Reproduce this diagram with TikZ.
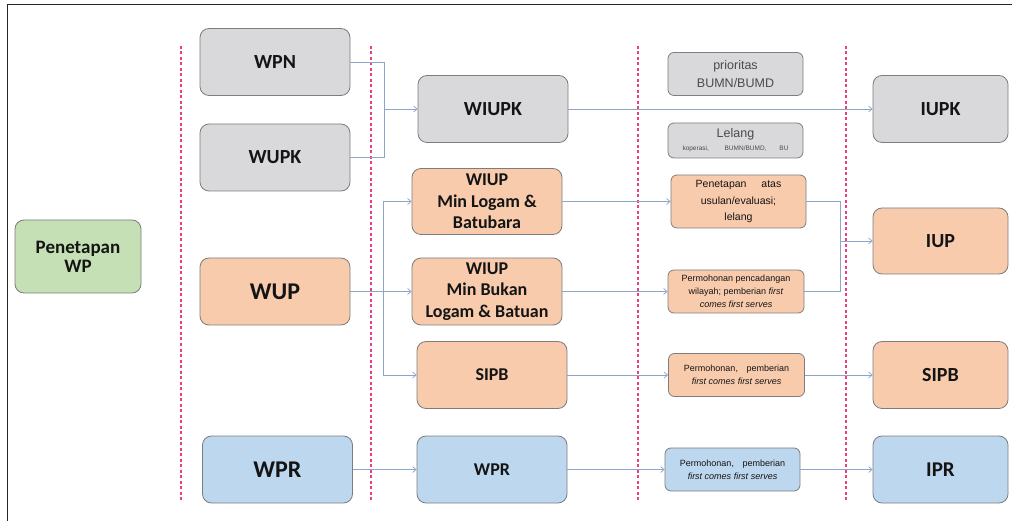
\documentclass[tikz,border=0pt]{standalone}
\usepackage{fontspec}
\setmainfont{Carlito}
\newfontfamily\smallfont{Liberation Sans}
\usetikzlibrary{arrows.meta}
\definecolor{gfill}{RGB}{217,217,220}
\definecolor{ofill}{RGB}{248,203,173}
\definecolor{bfill}{RGB}{189,215,238}
\definecolor{grfill}{RGB}{197,224,180}
\definecolor{bord}{RGB}{125,125,125}
\definecolor{conncol}{RGB}{140,165,200}
\definecolor{pinkd}{RGB}{232,64,128}
\definecolor{txt}{RGB}{20,20,20}
\definecolor{gtxt}{RGB}{75,75,75}
\newcommand\fsz[2]{\fontsize{#1}{#2}\selectfont}
\tikzset{
 box/.style={draw=bord, line width=0.8pt, rounded corners=9pt, inner sep=0pt, align=center, text=txt},
 bigbox/.style={box, minimum width=150pt, minimum height=67pt},
 colbox/.style={box, minimum width=135pt, minimum height=67pt},
 smallbox/.style={box, rounded corners=6pt, minimum width=135pt, minimum height=43pt},
 grayf/.style={fill=gfill},
 orangef/.style={fill=ofill},
 bluef/.style={fill=bfill},
 greenf/.style={fill=grfill},
 conn/.style={draw=conncol, line width=0.7pt},
 arr/.style={conn, -{Straight Barb[length=3.5pt,width=6pt]}},
 sepline/.style={draw=pinkd, line width=1.4pt, dash pattern=on 3pt off 2.5pt},
 lbl/.style={font=\bfseries\fsz{20}{24}},
 lblbig/.style={font=\bfseries\fsz{24}{28}},
 lblmid/.style={font=\bfseries\fsz{18}{21.5}},
 smalltxt/.style={font=\smallfont\fsz{9}{13}},
}
\begin{document}
\begin{tikzpicture}[x=1pt,y=-1pt]
\useasboundingbox (0,0) rectangle (1012,521);
\fill[white] (0,0) rectangle (1012,521);
% frame
\draw[line width=1pt, black!85] (7,521) -- (7,5) -- (1012,5);
% separators
\draw[sepline] (181,46) -- (181,501);
\draw[sepline] (371,46) -- (371,501);
\draw[sepline] (638,46) -- (638,501);
\draw[sepline] (846,46) -- (846,501);

% column 0
\node[box, greenf, minimum width=126pt, minimum height=73pt, font=\bfseries\fsz{19}{19}] (pen) at (78,256.5) {Penetapan\\WP};
% column 1
\node[bigbox, grayf, lbl] (wpn) at (275,62) {WPN};
\node[bigbox, grayf, lbl] (wupk) at (275,157.5) {WUPK};
\node[bigbox, orangef, lblbig] (wup) at (275,291.5) {WUP};
\node[bigbox, bluef, lblbig] (wpr1) at (277.5,469.5) {WPR};
% column 2
\node[bigbox, grayf, lbl] (wiupk) at (493,109) {WIUPK};
\node[bigbox, orangef, lblmid, minimum height=66pt] (wiup1) at (487,201.5) {WIUP\\Min Logam \&\\Batubara};
\node[bigbox, orangef, lblmid] (wiup2) at (487,291.5) {WIUP\\Min Bukan\\Logam \& Batuan};
\node[bigbox, orangef, lblmid] (sipb2) at (492,375) {SIPB};
\node[bigbox, bluef, lblmid] (wpr2) at (492,469.5) {WPR};
% column 3
\node[smallbox, grayf, text=gtxt, font=\smallfont\fsz{12.5}{18}] (prio) at (735.5,74) {prioritas\\BUMN/BUMD};
\node[smallbox, grayf, text=gtxt, minimum height=35pt, font=\smallfont\fsz{12.5}{16}] (lel) at (735.5,140.5) {Lelang\\[-3pt]{\fsz{6.5}{7}\makebox[106pt][s]{koperasi, BUMN/BUMD, BU}}};
\node[smallbox, orangef, minimum height=53pt, font=\smallfont\fsz{10.5}{16.5}] (penatas) at (738.5,201.5) {Penetapan\hspace{12pt} atas\\usulan/evaluasi;\\lelang};
\node[smallbox, orangef, minimum width=136pt, smalltxt] (pencad) at (736,291.5) {Permohonan pencadangan\\wilayah; pemberian \textit{first}\\\textit{comes first serves}};
\node[smallbox, orangef, minimum width=136pt, smalltxt] (permsipb) at (736.5,375) {Permohonan,\hspace{6pt} pemberian\\\textit{first comes first serves}};
\node[smallbox, bluef, smalltxt] (permipr) at (732.5,469.5) {Permohonan,\hspace{6pt} pemberian\\\textit{first comes first serves}};
% column 4
\node[colbox, grayf, lbl] (iupk) at (940.5,109) {IUPK};
\node[colbox, orangef, lbl, minimum height=66pt] (iup) at (940.5,241) {IUP};
\node[colbox, orangef, lbl] (sipb4) at (940.5,375) {SIPB};
\node[colbox, bluef, font=\bfseries\fsz{21}{24}] (ipr) at (940.5,469.5) {IPR};

% connectors
\coordinate (j1) at (384,109);
\draw[conn] (wpn.east) -| (j1);
\draw[conn] (wupk.east) -| (j1);
\draw[arr] (j1) -- (wiupk.west);
\draw[arr] (wiupk.east) -- (iupk.west);

\coordinate (j2) at (383,291.5);
\draw[conn] (wup.east) -- (j2);
\draw[arr] (j2) |- (wiup1.west);
\draw[arr] (j2) -- (wiup2.west);
\draw[arr] (j2) |- (sipb2.west);

\draw[arr] (wiup1.east) -- (penatas.west);
\draw[arr] (wiup2.east) -- (pencad.west);
\coordinate (j3) at (840,241);
\draw[conn] (penatas.east) -| (j3);
\draw[conn] (pencad.east) -| (j3);
\draw[arr] (j3) -- (iup.west);

\draw[arr] (sipb2.east) -- (permsipb.west);
\draw[arr] (permsipb.east) -- (sipb4.west);

\draw[arr] (wpr1.east) -- (wpr2.west);
\draw[arr] (wpr2.east) -- (permipr.west);
\draw[arr] (permipr.east) -- (ipr.west);
\end{tikzpicture}
\end{document}
